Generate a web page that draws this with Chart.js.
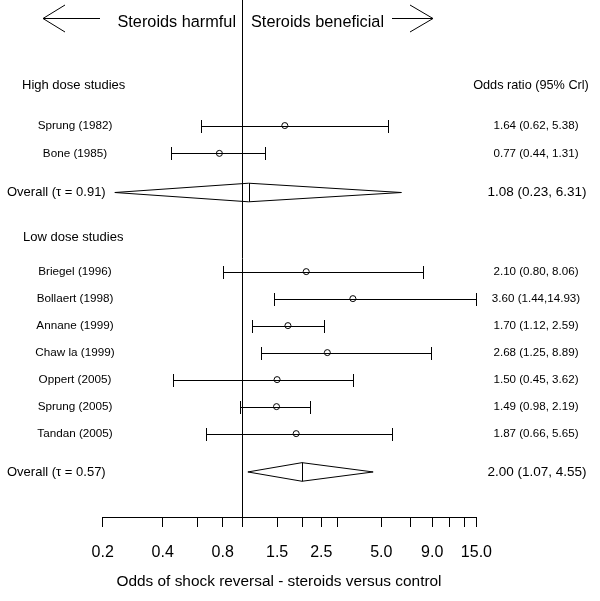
<!DOCTYPE html>
<html>
<head>
<meta charset="utf-8">
<script src="https://cdn.jsdelivr.net/npm/chart.js@4.4.0/dist/chart.umd.min.js"></script>
<style>
  html, body { margin: 0; padding: 0; background: #fff; }
</style>
</head>
<body>
<canvas id="forestPlot" width="600" height="601"></canvas>
<script>
// --- data ---
const highStudies = ['Sprung (1982)', 'Bone (1985)'];
const highOR = [1.64, 0.77];
const highLo = [0.62, 0.44];
const highHi = [5.38, 1.31];
const highPooled = [1.08, 0.23, 6.31]; // estimate, lower, upper
const highTau = 0.91;

const lowStudies = ['Briegel (1996)', 'Bollaert (1998)', 'Annane (1999)', 'Chaw la (1999)',
                    'Oppert (2005)', 'Sprung (2005)', 'Tandan (2005)'];
const lowOR = [2.10, 3.60, 1.70, 2.68, 1.50, 1.49, 1.87];
const lowLo = [0.80, 1.44, 1.12, 1.25, 0.45, 0.98, 0.66];
const lowHi = [8.06, 14.93, 2.59, 8.89, 3.62, 2.19, 5.65];
const lowPooled = [2.00, 1.07, 4.55];
const lowTau = 0.57;

const tickValues = [0.2, 0.4, 0.6, 0.8, 1, 1.5, 2, 2.5, 3, 5, 7, 9, 11, 13, 15];
const tickLabels = ['0.2', '0.4', '', '0.8', '', '1.5', '', '2.5', '', '5.0', '', '9.0', '', '', '15.0'];

// --- layout (row units, one row = 27px) ---
const FONT = '"Liberation Sans", Arial, Helvetica, sans-serif';
const yMax = 517 / 27;
const highHeadRow = 3.15;
const highRows = highStudies.map((s, i) => 4.65 + i * 1.03);
const highPooledRow = 7.13;
const lowHeadRow = 8.78;
const lowRows = lowStudies.map((s, i) => 10.06 + i);
const lowPooledRow = 17.48;

function fmtCI(est, lo, hi) {
    return est.toFixed(2) + ' (' + lo.toFixed(2) + ',' + hi.toFixed(2).padStart(5, ' ') + ')';
}

const points = [];
highOR.forEach((v, i) => points.push({ x: v, y: highRows[i] }));
lowOR.forEach((v, i) => points.push({ x: v, y: lowRows[i] }));

const forestPlugin = {
    id: 'forest',
    beforeDatasetsDraw(chart) {
        // line of no effect
        const c = chart.ctx;
        const xr = Math.round(chart.scales.x.getPixelForValue(1)) + 0.5;
        c.save();
        c.strokeStyle = '#000';
        c.lineWidth = 1;
        c.beginPath();
        c.moveTo(xr, chart.chartArea.top);
        c.lineTo(xr, chart.chartArea.bottom);
        c.stroke();
        c.restore();
    },
    afterDatasetsDraw(chart) {
        const c = chart.ctx;
        const xs = chart.scales.x;
        const ys = chart.scales.y;
        const X = v => xs.getPixelForValue(v);
        const Y = r => ys.getPixelForValue(r);
        c.save();
        c.strokeStyle = '#000';
        c.fillStyle = '#000';
        c.lineWidth = 1;

        // error bars with end caps
        function errBar(lo, hi, row) {
            const y = Math.round(Y(row)) + 0.5;
            const x1 = Math.round(X(lo)) + 0.5, x2 = Math.round(X(hi)) + 0.5;
            c.beginPath();
            c.moveTo(x1, y); c.lineTo(x2, y);
            c.moveTo(x1, y - 6.5); c.lineTo(x1, y + 6.5);
            c.moveTo(x2, y - 6.5); c.lineTo(x2, y + 6.5);
            c.stroke();
        }
        highLo.forEach((lo, i) => errBar(lo, highHi[i], highRows[i]));
        lowLo.forEach((lo, i) => errBar(lo, lowHi[i], lowRows[i]));

        // pooled diamonds
        function diamond(p, row) {
            const y = Y(row), h = 9.3;
            const xe = X(p[0]);
            c.beginPath();
            c.moveTo(X(p[1]), y);
            c.lineTo(xe, y - h);
            c.lineTo(X(p[2]), y);
            c.lineTo(xe, y + h);
            c.closePath();
            c.moveTo(Math.round(xe) + 0.5, y - h);
            c.lineTo(Math.round(xe) + 0.5, y + h);
            c.stroke();
        }
        diamond(highPooled, highPooledRow);
        diamond(lowPooled, lowPooledRow);

        // direction arrows
        const ay = 18.5;
        c.beginPath();
        c.moveTo(43, ay); c.lineTo(100, ay);
        c.moveTo(65, 5); c.lineTo(43, ay); c.lineTo(65, 32);
        c.moveTo(392, ay); c.lineTo(433, ay);
        c.moveTo(410, 5); c.lineTo(433, ay); c.lineTo(410, 32);
        c.stroke();

        const x1 = X(1);
        c.textBaseline = 'alphabetic';
        c.font = '16.3px ' + FONT;
        c.textAlign = 'right';
        c.fillText('Steroids harmful', x1 - 6, 27);
        c.textAlign = 'left';
        c.fillText('Steroids beneficial', x1 + 9, 27);

        // left-hand labels
        c.textBaseline = 'middle';
        c.font = '13px ' + FONT;
        c.textAlign = 'left';
        c.fillText('High dose studies', 22, Y(highHeadRow));
        c.fillText('Low dose studies', 23, Y(lowHeadRow));
        c.fillText('Overall (\u03C4 = ' + highTau.toFixed(2) + ')', 7, Y(highPooledRow));
        c.fillText('Overall (\u03C4 = ' + lowTau.toFixed(2) + ')', 7, Y(lowPooledRow));

        c.font = '11.7px ' + FONT;
        c.textAlign = 'center';
        highStudies.forEach((s, i) => c.fillText(s, 75, Y(highRows[i])));
        lowStudies.forEach((s, i) => c.fillText(s, 75, Y(lowRows[i])));

        // right-hand column
        c.font = '12.7px ' + FONT;
        c.fillText('Odds ratio (95% Crl)', 531, Y(highHeadRow));
        c.font = '11.6px ' + FONT;
        highOR.forEach((v, i) => c.fillText(fmtCI(v, highLo[i], highHi[i]), 536, Y(highRows[i])));
        lowOR.forEach((v, i) => c.fillText(fmtCI(v, lowLo[i], lowHi[i]), 536, Y(lowRows[i])));
        c.font = '13.5px ' + FONT;
        c.fillText(fmtCI(highPooled[0], highPooled[1], highPooled[2]), 537, Y(highPooledRow));
        c.fillText(fmtCI(lowPooled[0], lowPooled[1], lowPooled[2]), 537, Y(lowPooledRow));

        // axis title
        c.font = '15.4px ' + FONT;
        c.fillText('Odds of shock reversal - steroids versus control', 279, 581.5);
        c.restore();
    }
};

const ctx = document.getElementById('forestPlot').getContext('2d');
new Chart(ctx, {
    type: 'scatter',
    data: {
        datasets: [
            {
                data: points,
                pointStyle: 'circle',
                pointRadius: 3,
                pointHoverRadius: 3,
                borderColor: '#000',
                backgroundColor: 'rgba(0,0,0,0)',
                borderWidth: 1
            }
        ]
    },
    options: {
        responsive: false,
        animation: false,
        devicePixelRatio: 1,
        layout: { autoPadding: false, padding: { left: 102.7, right: 123.6, top: 0, bottom: 0 } },
        plugins: { legend: { display: false }, tooltip: { enabled: false } },
        scales: {
            x: {
                type: 'logarithmic',
                min: 0.2,
                max: 15,
                afterBuildTicks: s => { s.ticks = tickValues.map(v => ({ value: v })); },
                afterFit: s => { s.height = 84; },
                grid: { drawOnChartArea: false, drawTicks: true, tickLength: 10, color: '#000', lineWidth: 1 },
                border: { display: true, color: '#000', width: 1 },
                ticks: {
                    autoSkip: false,
                    maxRotation: 0,
                    padding: 16,
                    color: '#000',
                    font: { family: FONT, size: 16 },
                    callback: (v, i) => tickLabels[i]
                }
            },
            y: {
                type: 'linear',
                display: false,
                reverse: true,
                min: 0,
                max: yMax
            }
        }
    },
    plugins: [forestPlugin]
});
</script>
</body>
</html>
